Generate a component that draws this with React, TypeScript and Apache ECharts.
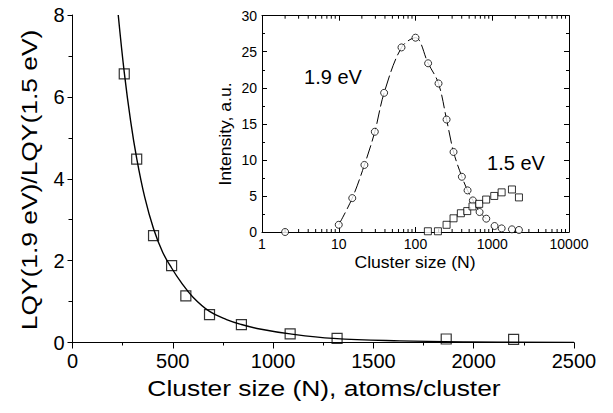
import React, { useEffect, useRef } from "react";
import * as echarts from "echarts";

// Main plot: ratio LQY(1.9 eV)/LQY(1.5 eV) vs cluster size
const ratioN = [258, 320, 404, 494, 565, 683, 842, 1085, 1319, 1863, 2199];
const ratioV = [6.56, 4.48, 2.61, 1.88, 1.14, 0.68, 0.435, 0.21, 0.1, 0.085, 0.077];

// Fitted curve
const fitN = [228, 258, 290, 320, 360, 404, 450, 494, 540, 602, 683, 768, 842, 934, 1085, 1300, 1631, 1963, 2500];
const fitV = [8.0, 6.6, 5.4, 4.5, 3.55, 2.78, 2.2, 1.82, 1.48, 1.1, 0.76, 0.56, 0.44, 0.33, 0.21, 0.1, 0.04, 0.015, 0.003];

// Inset: 1.9 eV (circles)
const n19 = [2, 10, 15, 21.6, 29.5, 39, 65.7, 100, 146, 199.5, 254, 313, 402, 477, 559, 684, 836, 1072, 1325, 1806, 2228];
const v19 = [0, 1.0, 4.7, 9.3, 13.9, 19.3, 25.6, 26.95, 23.4, 20.6, 15.6, 11.1, 7.66, 5.77, 4.38, 2.77, 1.85, 0.83, 0.5, 0.37, 0.28];
// Inset: 1.5 eV (squares)
const n15 = [145, 196, 254, 313, 390, 472, 553, 676, 833, 1062, 1325, 1806, 2228];
const v15 = [0.1, 0.1, 1.0, 1.9, 2.6, 2.9, 3.55, 3.9, 4.5, 5.0, 5.5, 5.9, 4.8];

// Tick labels / axis ranges
const mainXTicks = [0, 500, 1000, 1500, 2000, 2500];
const mainYTicks = [0, 2, 4, 6, 8];
const insetYTicks = [0, 5, 10, 15, 20, 25, 30];
const insetXDecades = [1, 10, 100, 1000, 10000];
const logMinorMultipliers = [2, 3, 4, 5, 6, 7, 8, 9];

const FONT = '"Liberation Sans", Arial, Helvetica, sans-serif';

export default function App() {
  const ref = useRef<HTMLDivElement>(null);
  useEffect(() => {
    if (!ref.current) return;
    const chart = echarts.init(ref.current, null, { renderer: "svg" });
    const black = "#000";
    const minorTickVals: number[] = [];
    insetXDecades.slice(0, -1).forEach((d) => logMinorMultipliers.forEach((m) => minorTickVals.push(d * m)));

    const baseAxis = {
      axisLine: { show: true, onZero: false, lineStyle: { color: black, width: 1 } },
      splitLine: { show: false },
    };

    const option: any = {
      animation: false,
      textStyle: { fontFamily: FONT, color: black },
      grid: [
        { left: 72.5, top: 15, width: 501.5, height: 327.5 },
        { left: 262, top: 15.7, width: 307, height: 216.3 },
      ],
      xAxis: [
        {
          ...baseAxis,
          gridIndex: 0,
          type: "value",
          min: mainXTicks[0],
          max: mainXTicks[mainXTicks.length - 1],
          interval: mainXTicks[1] - mainXTicks[0],
          axisTick: { show: true, inside: false, length: 6, lineStyle: { color: black } },
          minorTick: { show: true, splitNumber: 2, length: 3, lineStyle: { color: black } },
          minorSplitLine: { show: false },
          axisLabel: { fontSize: 20, color: black, margin: 8, fontFamily: FONT, formatter: (v: number) => String(v) },
        },
        {
          ...baseAxis,
          gridIndex: 1,
          type: "log",
          logBase: 10,
          min: insetXDecades[0],
          max: insetXDecades[insetXDecades.length - 1],
          axisTick: { show: true, inside: true, length: 5, lineStyle: { color: black } },
          axisLabel: { fontSize: 14, color: black, margin: 5, fontFamily: FONT, formatter: (v: number) => String(Math.round(v)) },
        },
        {
          ...baseAxis,
          gridIndex: 1,
          type: "log",
          logBase: 10,
          position: "top",
          min: insetXDecades[0],
          max: insetXDecades[insetXDecades.length - 1],
          axisTick: { show: true, inside: true, length: 5, lineStyle: { color: black } },
          axisLabel: { show: false },
        },
      ],
      yAxis: [
        {
          ...baseAxis,
          gridIndex: 0,
          type: "value",
          min: mainYTicks[0],
          max: mainYTicks[mainYTicks.length - 1],
          interval: mainYTicks[1] - mainYTicks[0],
          axisTick: { show: true, inside: false, length: 5, lineStyle: { color: black } },
          minorTick: { show: true, splitNumber: 2, length: 4, lineStyle: { color: black } },
          minorSplitLine: { show: false },
          axisLabel: { fontSize: 20, color: black, margin: 8, fontFamily: FONT },
        },
        {
          ...baseAxis,
          gridIndex: 1,
          type: "value",
          min: insetYTicks[0],
          max: insetYTicks[insetYTicks.length - 1],
          interval: insetYTicks[1] - insetYTicks[0],
          axisTick: { show: true, inside: true, length: 5, lineStyle: { color: black } },
          minorTick: { show: true, splitNumber: 2, length: 3, lineStyle: { color: black } },
          minorSplitLine: { show: false },
          axisLabel: { fontSize: 14, color: black, margin: 5, fontFamily: FONT },
        },
        {
          ...baseAxis,
          gridIndex: 1,
          type: "value",
          position: "right",
          min: insetYTicks[0],
          max: insetYTicks[insetYTicks.length - 1],
          interval: insetYTicks[1] - insetYTicks[0],
          axisTick: { show: true, inside: true, length: 5, lineStyle: { color: black } },
          minorTick: { show: true, splitNumber: 2, length: 3, lineStyle: { color: black } },
          minorSplitLine: { show: false },
          axisLabel: { show: false },
        },
      ],
      series: [
        {
          type: "line",
          xAxisIndex: 0,
          yAxisIndex: 0,
          data: fitN.map((n, i) => [n, fitV[i]]),
          smooth: 0.4,
          showSymbol: false,
          silent: true,
          lineStyle: { color: black, width: 1.4 },
        },
        {
          type: "scatter",
          xAxisIndex: 0,
          yAxisIndex: 0,
          data: ratioN.map((n, i) => [n, ratioV[i]]),
          symbol: "rect",
          symbolSize: 10,
          silent: true,
          clip: false,
          itemStyle: { color: "rgba(0,0,0,0)", borderColor: black, borderWidth: 1.2 },
          z: 5,
        },
        {
          type: "line",
          xAxisIndex: 1,
          yAxisIndex: 1,
          data: n19.slice(1, 17).map((n, i) => [n, v19[i + 1]]),
          smooth: 0.35,
          showSymbol: false,
          silent: true,
          lineStyle: { color: black, width: 1, type: [14, 4] },
        },
        {
          type: "scatter",
          xAxisIndex: 1,
          yAxisIndex: 1,
          data: n19.map((n, i) => [n, v19[i]]),
          symbol: "circle",
          symbolSize: 7,
          silent: true,
          clip: false,
          itemStyle: { color: "#fff", borderColor: black, borderWidth: 1 },
          z: 5,
        },
        {
          type: "scatter",
          xAxisIndex: 1,
          yAxisIndex: 1,
          data: n15.map((n, i) => [n, v15[i]]),
          symbol: "rect",
          symbolSize: 7,
          silent: true,
          clip: false,
          itemStyle: { color: "#fff", borderColor: black, borderWidth: 1 },
          z: 6,
        },
        {
          type: "custom",
          xAxisIndex: 1,
          yAxisIndex: 1,
          silent: true,
          clip: false,
          data: minorTickVals.map((v) => [v, 0]),
          renderItem: (params: any, api: any) => {
            const x = api.coord([api.value(0), 0])[0];
            const yb = api.coord([1, insetYTicks[0]])[1];
            const yt = api.coord([1, insetYTicks[insetYTicks.length - 1]])[1];
            return {
              type: "group",
              children: [
                { type: "line", shape: { x1: x, y1: yb, x2: x, y2: yb - 3 }, style: { stroke: black, lineWidth: 1 } },
                { type: "line", shape: { x1: x, y1: yt, x2: x, y2: yt + 3 }, style: { stroke: black, lineWidth: 1 } },
              ],
            };
          },
        },
      ],
      graphic: [
        {
          type: "text",
          x: 324,
          y: 388,
          scaleX: 1.2,
          style: { text: "Cluster size (N), atoms/cluster", font: `22px ${FONT}`, fill: black, align: "center", verticalAlign: "middle", textAlign: "center", textVerticalAlign: "middle" },
        },
        {
          type: "text",
          x: 29,
          y: 180,
          rotation: Math.PI / 2,
          scaleX: 1.2,
          style: { text: "LQY(1.9 eV)/LQY(1.5 eV)", font: `22px ${FONT}`, fill: black, align: "center", verticalAlign: "middle", textAlign: "center", textVerticalAlign: "middle" },
        },
        {
          type: "text",
          x: 415,
          y: 263,
          scaleX: 1.1,
          style: { text: "Cluster size (N)", font: `16px ${FONT}`, fill: black, align: "center", verticalAlign: "middle", textAlign: "center", textVerticalAlign: "middle" },
        },
        {
          type: "text",
          x: 226,
          y: 134,
          rotation: Math.PI / 2,
          scaleX: 1.1,
          style: { text: "Intensity, a.u.", font: `16px ${FONT}`, fill: black, align: "center", verticalAlign: "middle", textAlign: "center", textVerticalAlign: "middle" },
        },
        {
          type: "text",
          x: 333,
          y: 77,
          style: { text: "1.9 eV", font: `20px ${FONT}`, fill: black, align: "center", verticalAlign: "middle", textAlign: "center", textVerticalAlign: "middle" },
        },
        {
          type: "text",
          x: 516,
          y: 163,
          style: { text: "1.5 eV", font: `20px ${FONT}`, fill: black, align: "center", verticalAlign: "middle", textAlign: "center", textVerticalAlign: "middle" },
        },
      ],
    };
    chart.setOption(option);
    return () => chart.dispose();
  }, []);
  return <div ref={ref} style={{ position: "absolute", left: 0, top: 0, width: 613, height: 413, background: "#fff" }} />;
}
